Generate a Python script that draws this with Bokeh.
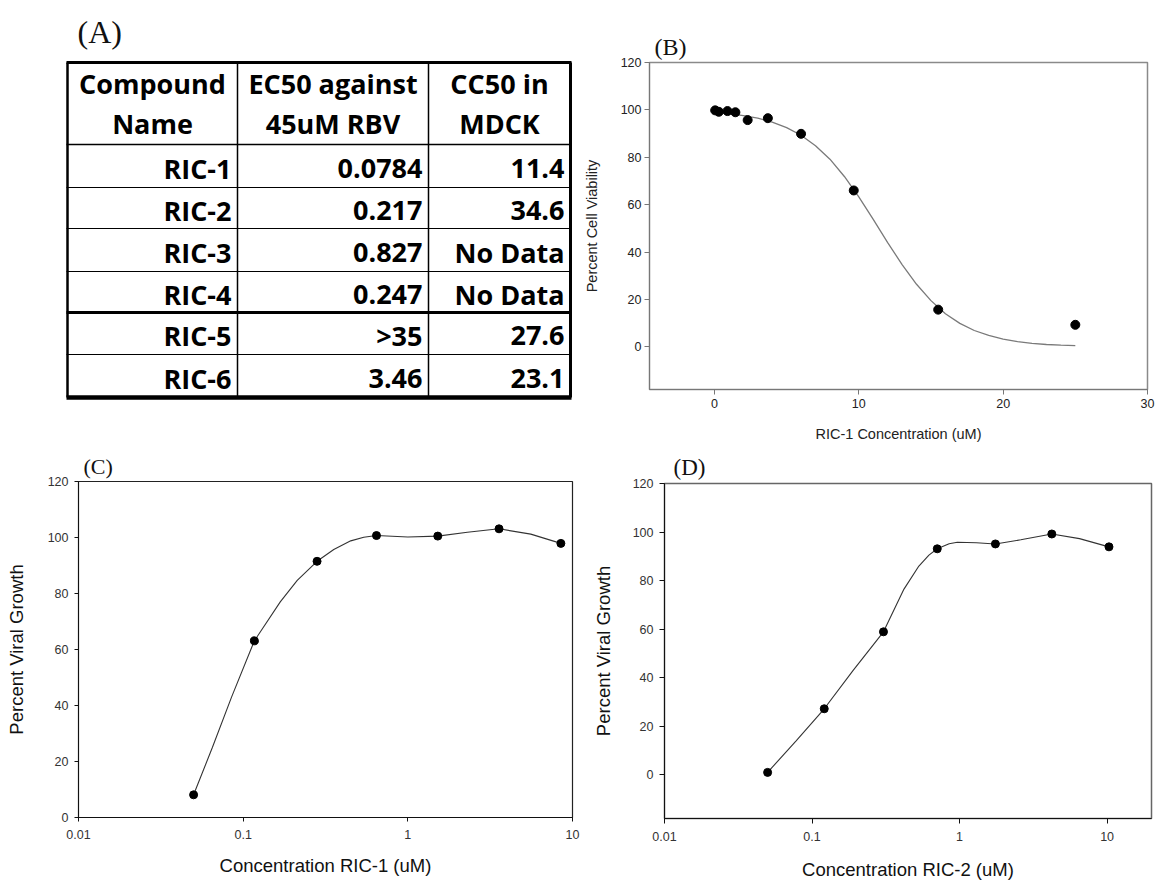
from bokeh.plotting import figure
from bokeh.layouts import column, row
from bokeh.models import Range1d, FixedTicker, CustomJSTickFormatter, ColumnDataSource
from bokeh.core.properties import value
from bokeh.embed import file_html
from bokeh.resources import INLINE

# ---------------- data ----------------
# (A) table
table_headers = [("Compound", "Name"), ("EC50 against", "45uM RBV"), ("CC50 in", "MDCK")]
table_compounds = ["RIC-1", "RIC-2", "RIC-3", "RIC-4", "RIC-5", "RIC-6"]
table_ec50 = ["0.0784", "0.217", "0.827", "0.247", ">35", "3.46"]
table_cc50 = ["11.4", "34.6", "No Data", "No Data", "27.6", "23.1"]

# (B) cell viability vs RIC-1 concentration
b_conc = [0.05, 0.3, 0.9, 1.45, 2.3, 3.7, 6.0, 9.65, 15.5, 25.0]
b_viability = [99.8, 99.2, 99.5, 99.0, 95.7, 96.5, 89.9, 66.0, 15.7, 9.3]
b_fit_conc = [0, 1, 2, 3, 4, 5, 6, 7, 8, 9, 10, 11, 12, 13, 14, 15, 16, 17, 18, 19, 20, 21, 22, 23, 24, 25]
b_fit_viability = [98.9, 98.4, 97.6, 96.5, 94.8, 92.5, 89.3, 84.9, 79.2, 71.9, 63.3, 53.8, 44.0,
                   34.7, 26.4, 19.5, 14.0, 9.9, 6.9, 4.8, 3.3, 2.2, 1.5, 1.0, 0.7, 0.5]
b_xticks = [0, 10, 20, 30]
b_yticks = [0, 20, 40, 60, 80, 100, 120]

# (C) viral growth vs RIC-1
c_conc = [0.05, 0.117, 0.281, 0.645, 1.52, 3.58, 8.5]
c_growth = [8.1, 63.1, 91.5, 100.7, 100.5, 103.1, 97.9]
c_curve_conc = [0.05, 0.065, 0.085, 0.117, 0.168, 0.213, 0.281, 0.355, 0.45, 0.54, 0.645,
                1.0, 1.52, 2.3, 3.58, 5.58, 8.5]
c_curve_growth = [8.1, 25.0, 43.0, 63.1, 77.0, 84.7, 91.5, 95.7, 98.8, 100.1, 100.7,
                  100.2, 100.5, 101.9, 103.1, 101.2, 97.9]

# (D) viral growth vs RIC-2
d_conc = [0.05, 0.121, 0.305, 0.706, 1.75, 4.22, 10.3]
d_growth = [1.0, 27.2, 58.9, 93.1, 95.1, 99.2, 93.9]
d_curve_conc = [0.05, 0.078, 0.121, 0.19, 0.305, 0.42, 0.53, 0.62, 0.706, 0.85, 0.966,
                1.3, 1.75, 2.6, 4.22, 6.5, 10.3]
d_curve_growth = [1.0, 14.0, 27.2, 43.0, 58.9, 76.5, 86.0, 90.5, 93.1, 95.2, 95.8,
                  95.6, 95.1, 96.8, 99.2, 97.3, 93.9]

log_ticks = [0.01, 0.1, 1, 10]
pct_ticks = [0, 20, 40, 60, 80, 100, 120]

SANS = "Liberation Sans"
SERIF = "Liberation Serif"


def style_axes(p, tick_color, label_color, tick_size, label_size, axis_color):
    p.grid.visible = False
    p.axis.minor_tick_line_color = None
    p.axis.major_tick_in = 0
    p.axis.major_tick_out = 5
    p.axis.axis_line_color = axis_color
    p.axis.major_tick_line_color = axis_color
    p.axis.major_label_text_font = SANS
    p.axis.major_label_text_font_size = tick_size
    p.axis.major_label_text_color = tick_color
    p.axis.axis_label_text_font = SANS
    p.axis.axis_label_text_font_size = label_size
    p.axis.axis_label_text_font_style = "normal"
    p.axis.axis_label_text_color = label_color
    p.title.text_font = SERIF
    p.title.text_font_style = "normal"
    p.title.text_color = "#111111"
    p.title.align = "left"
    p.background_fill_color = "white"
    p.border_fill_color = "white"


# ---------------- (A) table ----------------
t = figure(width=580, height=447, x_range=Range1d(0, 580), y_range=Range1d(447, 0),
           output_backend="svg", toolbar_location=None, min_border=0,
           x_axis_location=None, y_axis_location=None)
t.grid.visible = False
t.outline_line_color = None
t.border_fill_color = "white"

col_edges = [67, 237, 428, 570]
row_edges = [62, 144, 187, 228, 271, 312, 354, 397]
h_widths = [3, 1.5, 1, 1, 1, 3, 1, 4.5]
v_widths = [2.5, 1.5, 1.5, 3]

seg = dict(x0=[], y0=[], x1=[], y1=[], w=[])
for y, w in zip(row_edges, h_widths):
    seg["x0"].append(col_edges[0] - 1); seg["x1"].append(col_edges[-1] + 1)
    seg["y0"].append(y); seg["y1"].append(y); seg["w"].append(w)
for x, w in zip(col_edges, v_widths):
    seg["x0"].append(x); seg["x1"].append(x)
    seg["y0"].append(row_edges[0]); seg["y1"].append(row_edges[-1]); seg["w"].append(w)
t.segment(x0="x0", y0="y0", x1="x1", y1="y1", line_width="w", line_color="black",
          source=ColumnDataSource(seg))

# header text
hx, hy, ht = [], [], []
for i, (l1, l2) in enumerate(table_headers):
    cx = (col_edges[i] + col_edges[i + 1]) / 2
    hx += [cx, cx]
    hy += [row_edges[0] + 21, row_edges[0] + 61]
    ht += [l1, l2]
t.text(x=hx, y=hy, text=ht, text_font=value("Open Sans"), text_font_style="bold",
       text_font_size="27px", text_align="center", text_baseline="middle", text_color="black")

# body text (right aligned)
bx, by, bt = [], [], []
for r in range(len(table_compounds)):
    cy = (row_edges[r + 1] + row_edges[r + 2]) / 2 + 2
    for c, col in enumerate([table_compounds, table_ec50, table_cc50]):
        bx.append(col_edges[c + 1] - 6)
        by.append(cy)
        bt.append(col[r])
t.text(x=bx, y=by, text=bt, text_font=value("Open Sans"), text_font_style="bold",
       text_font_size="27px", text_align="right", text_baseline="middle", text_color="black")

t.text(x=[77], y=[31], text=["(A)"], text_font=value(SERIF), text_font_size="32px",
       text_align="left", text_baseline="middle", text_color="#111111")

# ---------------- (B) ----------------
b = figure(width=575, height=447, x_range=Range1d(-4.5, 30), y_range=Range1d(-18, 120),
           output_backend="svg", toolbar_location=None, title="(B)",
           min_border_left=68, min_border_right=8, min_border_top=62, min_border_bottom=58)
style_axes(b, "#222222", "#222222", "12.5px", "14.5px", "#777777")
b.outline_line_color = "#8a8a8a"
b.outline_line_width = 1.5
b.title.text_font_size = "24px"
b.title.offset = 5
b.title.standoff = 6
b.xaxis.ticker = FixedTicker(ticks=b_xticks)
b.yaxis.ticker = FixedTicker(ticks=b_yticks)
b.xaxis.axis_label = "RIC-1 Concentration (uM)"
b.yaxis.axis_label = "Percent Cell Viability"
b.xaxis.major_label_standoff = 4
b.yaxis.major_label_standoff = 3
b.xaxis.axis_label_standoff = 15
b.yaxis.axis_label_standoff = 18
b.line(b_fit_conc, b_fit_viability, line_color="#7a7a7a", line_width=1.3)
b.scatter(b_conc, b_viability, size=9, fill_color="black", line_color="black")

# ---------------- (C) ----------------
fmt = CustomJSTickFormatter(code="return String(tick);")

c = figure(width=580, height=435, x_axis_type="log", x_range=Range1d(0.01, 10),
           y_range=Range1d(0, 120), output_backend="svg", toolbar_location=None, title="(C)",
           min_border_left=78, min_border_right=8, min_border_top=34, min_border_bottom=65)
style_axes(c, "#333333", "#111111", "12.5px", "18.5px", "#111111")
c.outline_line_color = "#222222"
c.outline_line_width = 1.2
c.title.text_font_size = "22px"
c.title.offset = 5
c.title.standoff = 6
c.axis.major_tick_out = 4
c.xaxis.ticker = FixedTicker(ticks=log_ticks)
c.xaxis.formatter = fmt
c.yaxis.ticker = FixedTicker(ticks=pct_ticks)
c.xaxis.axis_label = "Concentration RIC-1 (uM)"
c.yaxis.axis_label = "Percent Viral Growth"
c.xaxis.major_label_standoff = 8
c.yaxis.major_label_standoff = 6
c.xaxis.axis_label_standoff = 13
c.yaxis.axis_label_standoff = 18
c.line(c_curve_conc, c_curve_growth, line_color="#333333", line_width=1.1)
c.scatter(c_conc, c_growth, size=8, fill_color="black", line_color="black")

# ---------------- (D) ----------------
d = figure(width=575, height=435, x_axis_type="log", x_range=Range1d(0.01, 20),
           y_range=Range1d(-18, 120), output_backend="svg", toolbar_location=None, title="(D)",
           min_border_left=84, min_border_right=4, min_border_top=36, min_border_bottom=59)
style_axes(d, "#333333", "#111111", "12.5px", "18.5px", "#111111")
d.outline_line_color = "#666666"
d.outline_line_width = 1.5
d.title.text_font_size = "23px"
d.title.offset = 9
d.title.standoff = 8
d.xaxis.ticker = FixedTicker(ticks=log_ticks)
d.xaxis.formatter = fmt
d.yaxis.ticker = FixedTicker(ticks=pct_ticks)
d.xaxis.axis_label = "Concentration RIC-2 (uM)"
d.yaxis.axis_label = "Percent Viral Growth"
d.xaxis.major_label_standoff = 8
d.yaxis.major_label_standoff = 6
d.xaxis.axis_label_standoff = 15
d.yaxis.axis_label_standoff = 16
d.line(d_curve_conc, d_curve_growth, line_color="#333333", line_width=1.1)
d.scatter(d_conc, d_growth, size=8, fill_color="black", line_color="black")

# wrap each plot in its own column so that rows do not align plot frames
layout = column(row(column(t), column(b)), row(column(c), column(d)))
open("out.html", "w").write(file_html(layout, INLINE))
